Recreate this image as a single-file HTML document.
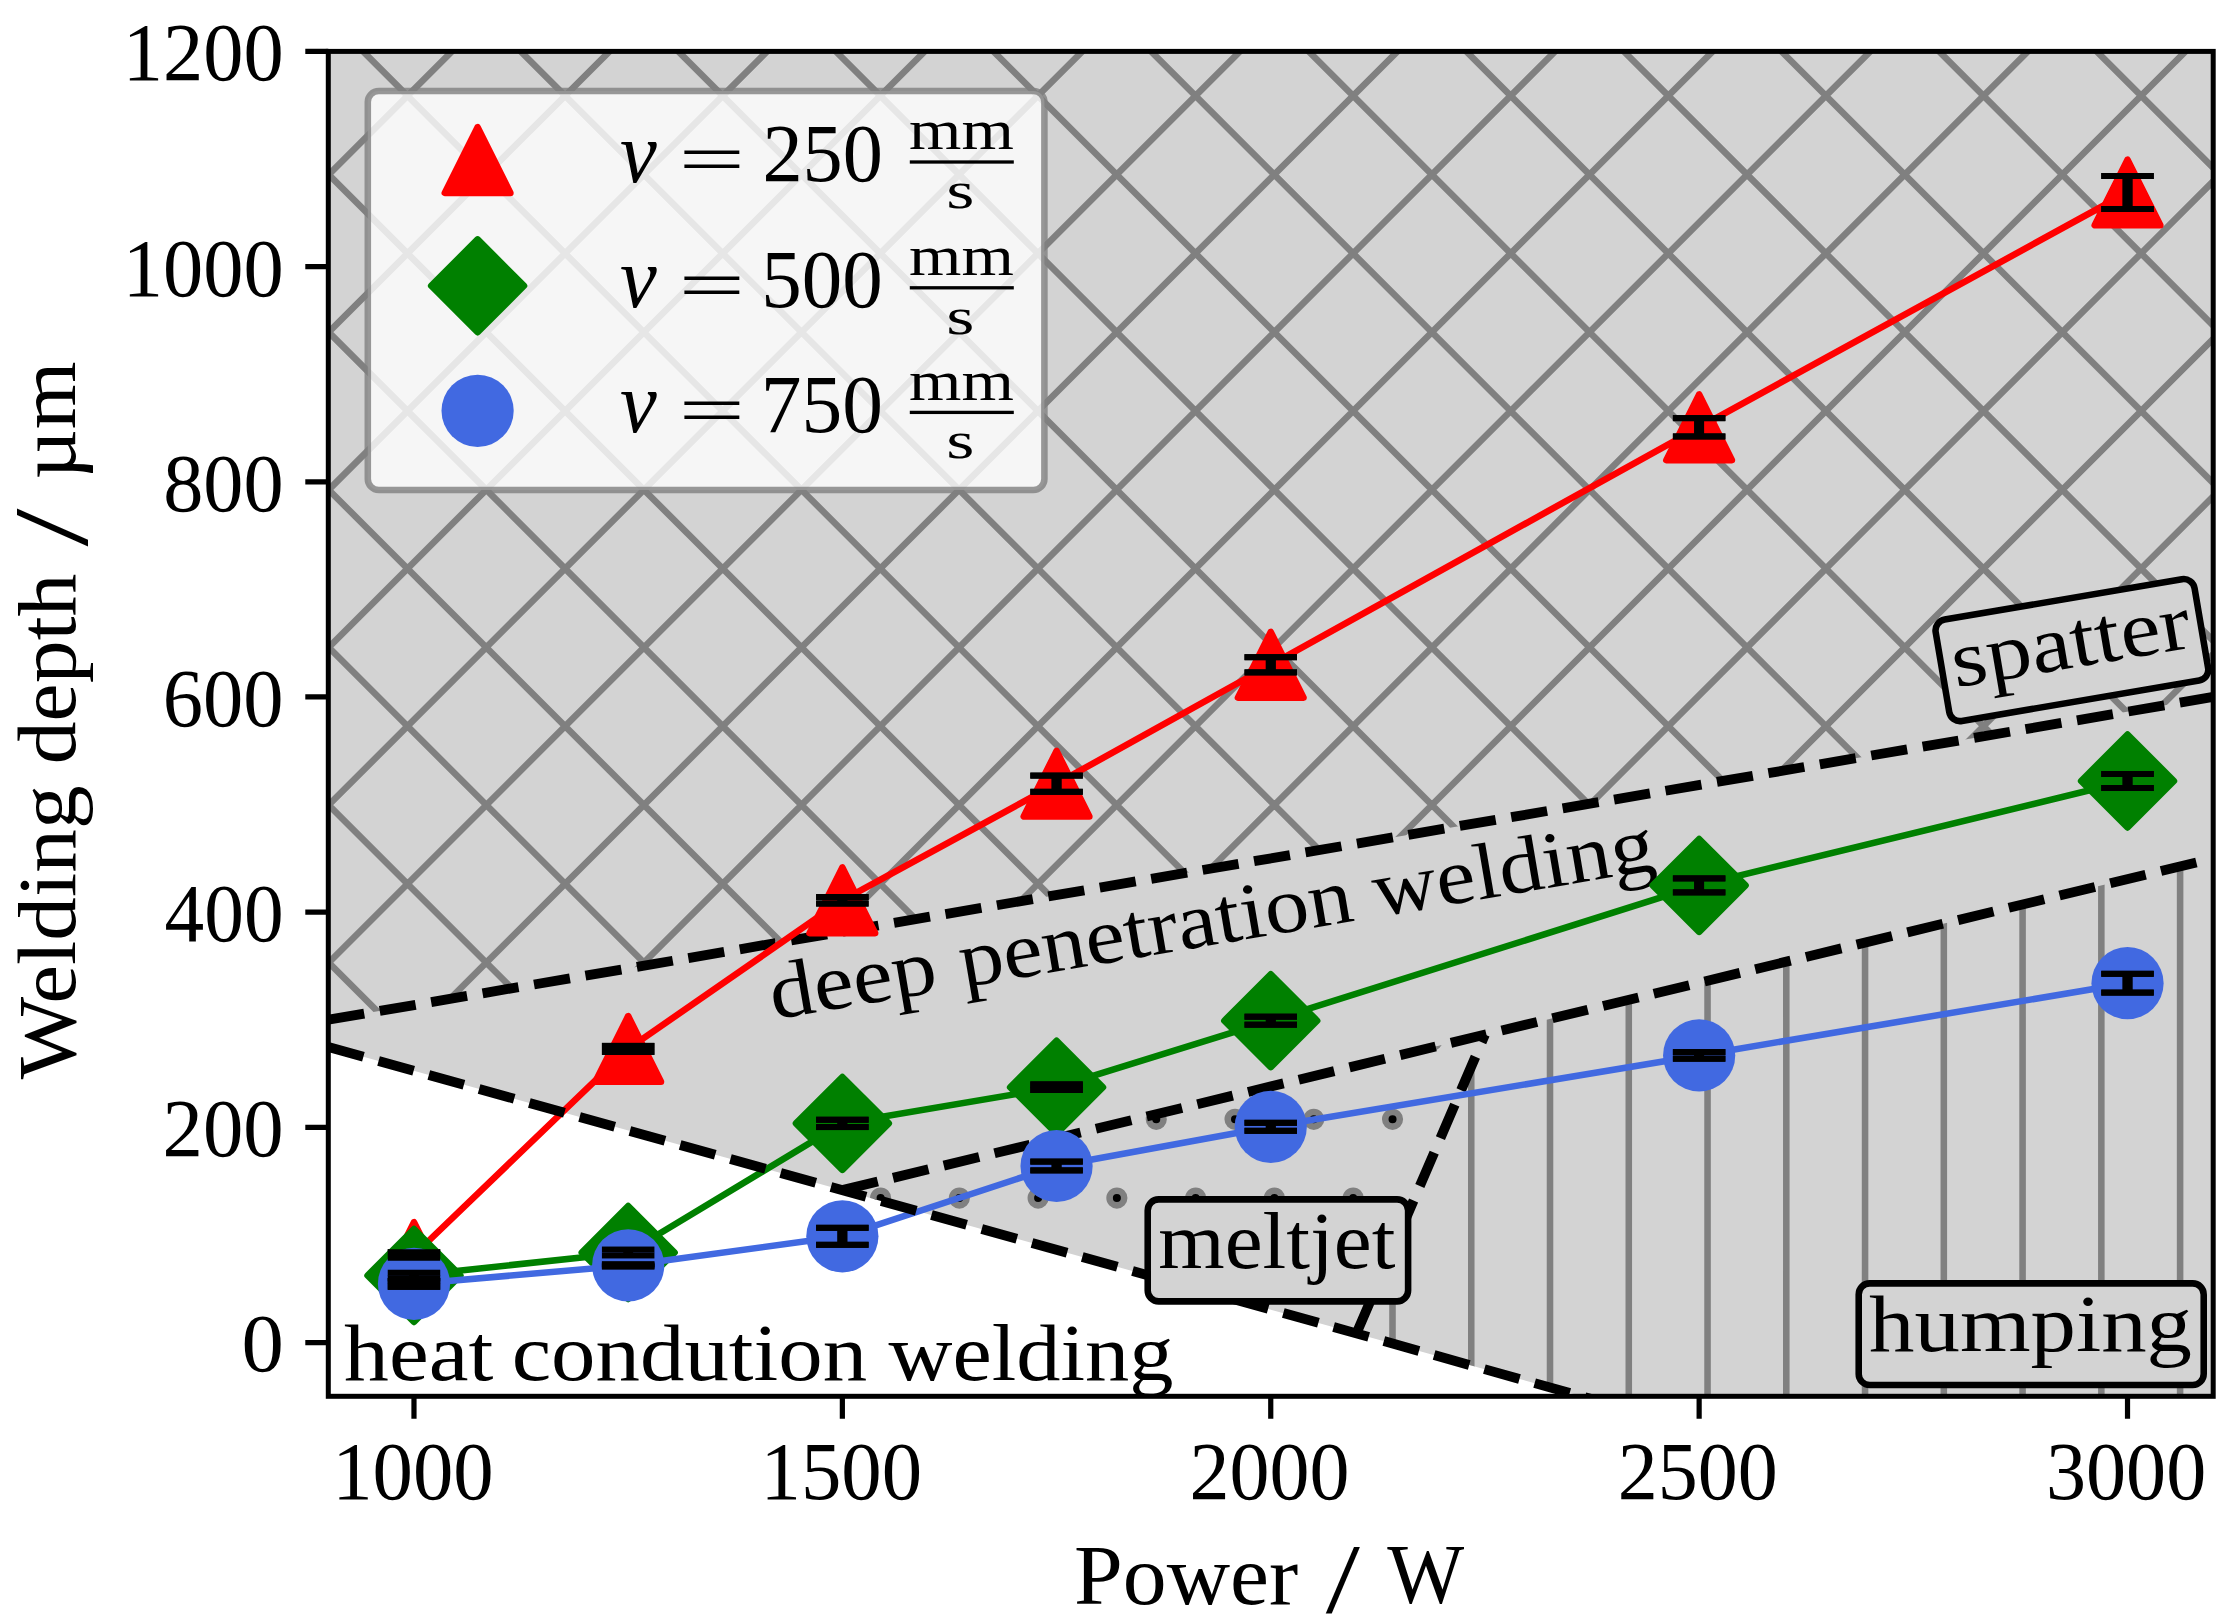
<!DOCTYPE html>
<html><head><meta charset="utf-8"><title>Welding depth</title>
<style>html,body{margin:0;padding:0;background:#fff}svg{display:block}</style></head>
<body>
<svg width="2229" height="1623" viewBox="0 0 2229 1623" font-family='"Liberation Serif", serif'>
<rect width="2229" height="1623" fill="#fff"/>
<defs>
<clipPath id="ax"><rect x="328.30" y="51.40" width="1884.90" height="1344.90"/></clipPath>
<clipPath id="cx"><polygon points="328.30,1019.73 2213.20,696.96 2213.20,51.40 328.30,51.40"/></clipPath>
<clipPath id="cm"><polygon points="842.36,1190.15 1484.94,1034.62 1356.43,1333.46"/></clipPath>
<clipPath id="ch"><polygon points="1484.94,1034.62 2213.20,858.35 2213.20,1396.30 1581.88,1396.30 1356.43,1333.46"/></clipPath>
</defs>
<g clip-path="url(#ax)">
<polygon points="328.30,1046.92 1581.88,1396.30 2213.20,1396.30 2213.20,51.40 328.30,51.40" fill="#d3d3d3"/>
<g clip-path="url(#cx)" stroke="#808080" stroke-width="6.56" fill="none"><path d="M156.70 31.40 L-911.90 1100.00 M314.30 31.40 L-754.30 1100.00 M471.90 31.40 L-596.70 1100.00 M629.50 31.40 L-439.10 1100.00 M787.10 31.40 L-281.50 1100.00 M944.70 31.40 L-123.90 1100.00 M1102.30 31.40 L33.70 1100.00 M1259.90 31.40 L191.30 1100.00 M1417.50 31.40 L348.90 1100.00 M1575.10 31.40 L506.50 1100.00 M1732.70 31.40 L664.10 1100.00 M1890.30 31.40 L821.70 1100.00 M2047.90 31.40 L979.30 1100.00 M2205.50 31.40 L1136.90 1100.00 M2363.10 31.40 L1294.50 1100.00 M2520.70 31.40 L1452.10 1100.00 M2678.30 31.40 L1609.70 1100.00 M2835.90 31.40 L1767.30 1100.00 M2993.50 31.40 L1924.90 1100.00 M3151.10 31.40 L2082.50 1100.00 M3308.70 31.40 L2240.10 1100.00 M3466.30 31.40 L2397.70 1100.00 M3623.90 31.40 L2555.30 1100.00 M3781.50 31.40 L2712.90 1100.00 M3939.10 31.40 L2870.50 1100.00 M4096.70 31.40 L3028.10 1100.00 M4254.30 31.40 L3185.70 1100.00 M-1232.90 31.40 L-164.30 1100.00 M-1075.30 31.40 L-6.70 1100.00 M-917.70 31.40 L150.90 1100.00 M-760.10 31.40 L308.50 1100.00 M-602.50 31.40 L466.10 1100.00 M-444.90 31.40 L623.70 1100.00 M-287.30 31.40 L781.30 1100.00 M-129.70 31.40 L938.90 1100.00 M27.90 31.40 L1096.50 1100.00 M185.50 31.40 L1254.10 1100.00 M343.10 31.40 L1411.70 1100.00 M500.70 31.40 L1569.30 1100.00 M658.30 31.40 L1726.90 1100.00 M815.90 31.40 L1884.50 1100.00 M973.50 31.40 L2042.10 1100.00 M1131.10 31.40 L2199.70 1100.00 M1288.70 31.40 L2357.30 1100.00 M1446.30 31.40 L2514.90 1100.00 M1603.90 31.40 L2672.50 1100.00 M1761.50 31.40 L2830.10 1100.00 M1919.10 31.40 L2987.70 1100.00 M2076.70 31.40 L3145.30 1100.00 M2234.30 31.40 L3302.90 1100.00 M2391.90 31.40 L3460.50 1100.00"/></g>
<g clip-path="url(#cm)" fill="#000" stroke="#808080" stroke-width="6.56"><circle cx="880.60" cy="1040.58" r="7.3"/><circle cx="959.36" cy="1040.58" r="7.3"/><circle cx="1038.12" cy="1040.58" r="7.3"/><circle cx="1116.88" cy="1040.58" r="7.3"/><circle cx="1195.64" cy="1040.58" r="7.3"/><circle cx="1274.40" cy="1040.58" r="7.3"/><circle cx="1353.16" cy="1040.58" r="7.3"/><circle cx="1431.92" cy="1040.58" r="7.3"/><circle cx="1510.68" cy="1040.58" r="7.3"/><circle cx="841.22" cy="1119.34" r="7.3"/><circle cx="919.98" cy="1119.34" r="7.3"/><circle cx="998.74" cy="1119.34" r="7.3"/><circle cx="1077.50" cy="1119.34" r="7.3"/><circle cx="1156.26" cy="1119.34" r="7.3"/><circle cx="1235.02" cy="1119.34" r="7.3"/><circle cx="1313.78" cy="1119.34" r="7.3"/><circle cx="1392.54" cy="1119.34" r="7.3"/><circle cx="1471.30" cy="1119.34" r="7.3"/><circle cx="880.60" cy="1198.10" r="7.3"/><circle cx="959.36" cy="1198.10" r="7.3"/><circle cx="1038.12" cy="1198.10" r="7.3"/><circle cx="1116.88" cy="1198.10" r="7.3"/><circle cx="1195.64" cy="1198.10" r="7.3"/><circle cx="1274.40" cy="1198.10" r="7.3"/><circle cx="1353.16" cy="1198.10" r="7.3"/><circle cx="1431.92" cy="1198.10" r="7.3"/><circle cx="1510.68" cy="1198.10" r="7.3"/><circle cx="841.22" cy="1276.86" r="7.3"/><circle cx="919.98" cy="1276.86" r="7.3"/><circle cx="998.74" cy="1276.86" r="7.3"/><circle cx="1077.50" cy="1276.86" r="7.3"/><circle cx="1156.26" cy="1276.86" r="7.3"/><circle cx="1235.02" cy="1276.86" r="7.3"/><circle cx="1313.78" cy="1276.86" r="7.3"/><circle cx="1392.54" cy="1276.86" r="7.3"/><circle cx="1471.30" cy="1276.86" r="7.3"/><circle cx="880.60" cy="1355.62" r="7.3"/><circle cx="959.36" cy="1355.62" r="7.3"/><circle cx="1038.12" cy="1355.62" r="7.3"/><circle cx="1116.88" cy="1355.62" r="7.3"/><circle cx="1195.64" cy="1355.62" r="7.3"/><circle cx="1274.40" cy="1355.62" r="7.3"/><circle cx="1353.16" cy="1355.62" r="7.3"/><circle cx="1431.92" cy="1355.62" r="7.3"/><circle cx="1510.68" cy="1355.62" r="7.3"/></g>
<g clip-path="url(#ch)" stroke="#808080" stroke-width="6.56"><path d="M1392.50 800V1420 M1471.26 800V1420 M1550.02 800V1420 M1628.78 800V1420 M1707.54 800V1420 M1786.30 800V1420 M1865.06 800V1420 M1943.82 800V1420 M2022.58 800V1420 M2101.34 800V1420 M2180.10 800V1420 M2258.86 800V1420"/></g>
<g stroke="#000" stroke-width="9.85" stroke-dasharray="36.43 15.75" fill="none">
<line x1="328.30" y1="1019.73" x2="2213.20" y2="696.96"/>
<line x1="842.36" y1="1190.15" x2="2208.06" y2="859.59"/>
<line x1="1356.43" y1="1333.46" x2="1484.94" y2="1034.62" stroke-dashoffset="-3.9"/>
</g>
<text transform="translate(0.00 0.00) translate(344.10 1379.60) scale(1.1197 1.0000)" font-size="80.00" fill="#000">heat</text>
<text transform="translate(0.00 0.00) translate(511.67 1379.60) scale(1.1111 1.0000)" font-size="80.00" fill="#000">condution</text>
<text transform="translate(0.00 0.00) translate(888.50 1379.60) scale(1.1062 1.0000)" font-size="80.00" fill="#000">welding</text>
<text transform="translate(776.40 1019.10) rotate(-9.650) translate(-2.62 0.00) scale(1.1145 1.0000)" font-size="80.00" fill="#000">deep</text>
<text transform="translate(776.40 1019.10) rotate(-9.650) translate(189.67 0.00) scale(1.1063 1.0000)" font-size="80.00" fill="#000">penetration</text>
<text transform="translate(776.40 1019.10) rotate(-9.650) translate(609.40 0.00) scale(1.1042 1.0000)" font-size="80.00" fill="#000">welding</text>
<polyline points="413.98,1255.00 628.17,1048.90 842.36,900.30 1056.56,783.70 1270.75,664.80 1699.14,427.30 2127.52,192.50" fill="none" stroke="#ff0000" stroke-width="6.56" stroke-linejoin="round"/><polygon points="413.98,1222.18 381.16,1287.82 446.80,1287.82" fill="#ff0000" stroke="#ff0000" stroke-width="6.56" stroke-linejoin="round"/><polygon points="628.17,1016.08 595.35,1081.72 660.99,1081.72" fill="#ff0000" stroke="#ff0000" stroke-width="6.56" stroke-linejoin="round"/><polygon points="842.36,867.48 809.54,933.12 875.18,933.12" fill="#ff0000" stroke="#ff0000" stroke-width="6.56" stroke-linejoin="round"/><polygon points="1056.56,750.88 1023.74,816.52 1089.38,816.52" fill="#ff0000" stroke="#ff0000" stroke-width="6.56" stroke-linejoin="round"/><polygon points="1270.75,631.98 1237.93,697.62 1303.57,697.62" fill="#ff0000" stroke="#ff0000" stroke-width="6.56" stroke-linejoin="round"/><polygon points="1699.14,394.48 1666.32,460.12 1731.96,460.12" fill="#ff0000" stroke="#ff0000" stroke-width="6.56" stroke-linejoin="round"/><polygon points="2127.52,159.68 2094.70,225.32 2160.34,225.32" fill="#ff0000" stroke="#ff0000" stroke-width="6.56" stroke-linejoin="round"/>
<g fill="#000"><rect x="409.05" y="1252.25" width="9.85" height="5.50"/><rect x="387.73" y="1249.25" width="52.5" height="6.0"/><rect x="387.73" y="1254.75" width="52.5" height="6.0"/><rect x="623.25" y="1045.90" width="9.85" height="6.00"/><rect x="601.92" y="1042.90" width="52.5" height="6.0"/><rect x="601.92" y="1048.90" width="52.5" height="6.0"/><rect x="837.44" y="897.05" width="9.85" height="6.50"/><rect x="816.11" y="894.05" width="52.5" height="6.0"/><rect x="816.11" y="900.55" width="52.5" height="6.0"/><rect x="1051.63" y="775.60" width="9.85" height="16.20"/><rect x="1030.31" y="772.60" width="52.5" height="6.0"/><rect x="1030.31" y="788.80" width="52.5" height="6.0"/><rect x="1265.83" y="657.20" width="9.85" height="15.20"/><rect x="1244.50" y="654.20" width="52.5" height="6.0"/><rect x="1244.50" y="669.40" width="52.5" height="6.0"/><rect x="1694.21" y="418.15" width="9.85" height="18.30"/><rect x="1672.89" y="415.15" width="52.5" height="6.0"/><rect x="1672.89" y="433.45" width="52.5" height="6.0"/><rect x="2122.60" y="176.00" width="9.85" height="33.00"/><rect x="2101.27" y="173.00" width="52.5" height="6.0"/><rect x="2101.27" y="206.00" width="52.5" height="6.0"/></g>
<polyline points="413.98,1275.50 628.17,1252.50 842.36,1123.40 1056.56,1087.20 1270.75,1020.70 1699.14,885.40 2127.52,781.00" fill="none" stroke="#008000" stroke-width="6.56" stroke-linejoin="round"/><polygon points="413.98,1229.09 460.39,1275.50 413.98,1321.91 367.56,1275.50" fill="#008000" stroke="#008000" stroke-width="6.56" stroke-linejoin="round"/><polygon points="628.17,1206.09 674.59,1252.50 628.17,1298.91 581.76,1252.50" fill="#008000" stroke="#008000" stroke-width="6.56" stroke-linejoin="round"/><polygon points="842.36,1076.99 888.78,1123.40 842.36,1169.81 795.95,1123.40" fill="#008000" stroke="#008000" stroke-width="6.56" stroke-linejoin="round"/><polygon points="1056.56,1040.79 1102.97,1087.20 1056.56,1133.61 1010.14,1087.20" fill="#008000" stroke="#008000" stroke-width="6.56" stroke-linejoin="round"/><polygon points="1270.75,974.29 1317.16,1020.70 1270.75,1067.11 1224.34,1020.70" fill="#008000" stroke="#008000" stroke-width="6.56" stroke-linejoin="round"/><polygon points="1699.14,838.99 1745.55,885.40 1699.14,931.81 1652.72,885.40" fill="#008000" stroke="#008000" stroke-width="6.56" stroke-linejoin="round"/><polygon points="2127.52,734.59 2173.94,781.00 2127.52,827.41 2081.11,781.00" fill="#008000" stroke="#008000" stroke-width="6.56" stroke-linejoin="round"/>
<g fill="#000"><rect x="409.05" y="1272.75" width="9.85" height="5.50"/><rect x="387.73" y="1269.75" width="52.5" height="6.0"/><rect x="387.73" y="1275.25" width="52.5" height="6.0"/><rect x="623.25" y="1249.55" width="9.85" height="5.90"/><rect x="601.92" y="1246.55" width="52.5" height="6.0"/><rect x="601.92" y="1252.45" width="52.5" height="6.0"/><rect x="837.44" y="1119.75" width="9.85" height="7.30"/><rect x="816.11" y="1116.75" width="52.5" height="6.0"/><rect x="816.11" y="1124.05" width="52.5" height="6.0"/><rect x="1051.63" y="1084.40" width="9.85" height="5.60"/><rect x="1030.31" y="1081.40" width="52.5" height="6.0"/><rect x="1030.31" y="1087.00" width="52.5" height="6.0"/><rect x="1265.83" y="1016.70" width="9.85" height="8.00"/><rect x="1244.50" y="1013.70" width="52.5" height="6.0"/><rect x="1244.50" y="1021.70" width="52.5" height="6.0"/><rect x="1694.21" y="878.40" width="9.85" height="14.00"/><rect x="1672.89" y="875.40" width="52.5" height="6.0"/><rect x="1672.89" y="889.40" width="52.5" height="6.0"/><rect x="2122.60" y="774.00" width="9.85" height="14.00"/><rect x="2101.27" y="771.00" width="52.5" height="6.0"/><rect x="2101.27" y="785.00" width="52.5" height="6.0"/></g>
<polyline points="413.98,1283.90 628.17,1265.40 842.36,1236.30 1056.56,1166.00 1270.75,1126.80 1699.14,1055.40 2127.52,983.20" fill="none" stroke="#4169e1" stroke-width="6.56" stroke-linejoin="round"/><circle cx="413.98" cy="1283.90" r="36.10" fill="#4169e1"/><circle cx="628.17" cy="1265.40" r="36.10" fill="#4169e1"/><circle cx="842.36" cy="1236.30" r="36.10" fill="#4169e1"/><circle cx="1056.56" cy="1166.00" r="36.10" fill="#4169e1"/><circle cx="1270.75" cy="1126.80" r="36.10" fill="#4169e1"/><circle cx="1699.14" cy="1055.40" r="36.10" fill="#4169e1"/><circle cx="2127.52" cy="983.20" r="36.10" fill="#4169e1"/>
<g fill="#000"><rect x="409.05" y="1281.00" width="9.85" height="5.80"/><rect x="387.73" y="1278.00" width="52.5" height="6.0"/><rect x="387.73" y="1283.80" width="52.5" height="6.0"/><rect x="623.25" y="1264.40" width="9.85" height="2.00"/><rect x="601.92" y="1261.40" width="52.5" height="6.0"/><rect x="601.92" y="1263.40" width="52.5" height="6.0"/><rect x="837.44" y="1227.80" width="9.85" height="17.00"/><rect x="816.11" y="1224.80" width="52.5" height="6.0"/><rect x="816.11" y="1241.80" width="52.5" height="6.0"/><rect x="1051.63" y="1161.60" width="9.85" height="8.80"/><rect x="1030.31" y="1158.60" width="52.5" height="6.0"/><rect x="1030.31" y="1167.40" width="52.5" height="6.0"/><rect x="1265.83" y="1122.80" width="9.85" height="8.00"/><rect x="1244.50" y="1119.80" width="52.5" height="6.0"/><rect x="1244.50" y="1127.80" width="52.5" height="6.0"/><rect x="1694.21" y="1052.10" width="9.85" height="6.60"/><rect x="1672.89" y="1049.10" width="52.5" height="6.0"/><rect x="1672.89" y="1055.70" width="52.5" height="6.0"/><rect x="2122.60" y="973.80" width="9.85" height="18.80"/><rect x="2101.27" y="970.80" width="52.5" height="6.0"/><rect x="2101.27" y="989.60" width="52.5" height="6.0"/></g>
<g stroke="#000" stroke-width="9.85" stroke-dasharray="36.43 15.75" fill="none"><line x1="328.30" y1="1046.92" x2="1633.29" y2="1410.62"/></g>
<g fill="#000"><rect x="409.05" y="1252.25" width="9.85" height="5.50"/><rect x="387.73" y="1249.25" width="52.5" height="6.0"/><rect x="387.73" y="1254.75" width="52.5" height="6.0"/><rect x="623.25" y="1045.90" width="9.85" height="6.00"/><rect x="601.92" y="1042.90" width="52.5" height="6.0"/><rect x="601.92" y="1048.90" width="52.5" height="6.0"/><rect x="837.44" y="897.05" width="9.85" height="6.50"/><rect x="816.11" y="894.05" width="52.5" height="6.0"/><rect x="816.11" y="900.55" width="52.5" height="6.0"/><rect x="1051.63" y="775.60" width="9.85" height="16.20"/><rect x="1030.31" y="772.60" width="52.5" height="6.0"/><rect x="1030.31" y="788.80" width="52.5" height="6.0"/><rect x="1265.83" y="657.20" width="9.85" height="15.20"/><rect x="1244.50" y="654.20" width="52.5" height="6.0"/><rect x="1244.50" y="669.40" width="52.5" height="6.0"/><rect x="1694.21" y="418.15" width="9.85" height="18.30"/><rect x="1672.89" y="415.15" width="52.5" height="6.0"/><rect x="1672.89" y="433.45" width="52.5" height="6.0"/><rect x="2122.60" y="176.00" width="9.85" height="33.00"/><rect x="2101.27" y="173.00" width="52.5" height="6.0"/><rect x="2101.27" y="206.00" width="52.5" height="6.0"/><rect x="409.05" y="1272.75" width="9.85" height="5.50"/><rect x="387.73" y="1269.75" width="52.5" height="6.0"/><rect x="387.73" y="1275.25" width="52.5" height="6.0"/><rect x="623.25" y="1249.55" width="9.85" height="5.90"/><rect x="601.92" y="1246.55" width="52.5" height="6.0"/><rect x="601.92" y="1252.45" width="52.5" height="6.0"/><rect x="837.44" y="1119.75" width="9.85" height="7.30"/><rect x="816.11" y="1116.75" width="52.5" height="6.0"/><rect x="816.11" y="1124.05" width="52.5" height="6.0"/><rect x="1051.63" y="1084.40" width="9.85" height="5.60"/><rect x="1030.31" y="1081.40" width="52.5" height="6.0"/><rect x="1030.31" y="1087.00" width="52.5" height="6.0"/><rect x="1265.83" y="1016.70" width="9.85" height="8.00"/><rect x="1244.50" y="1013.70" width="52.5" height="6.0"/><rect x="1244.50" y="1021.70" width="52.5" height="6.0"/><rect x="1694.21" y="878.40" width="9.85" height="14.00"/><rect x="1672.89" y="875.40" width="52.5" height="6.0"/><rect x="1672.89" y="889.40" width="52.5" height="6.0"/><rect x="2122.60" y="774.00" width="9.85" height="14.00"/><rect x="2101.27" y="771.00" width="52.5" height="6.0"/><rect x="2101.27" y="785.00" width="52.5" height="6.0"/><rect x="409.05" y="1281.00" width="9.85" height="5.80"/><rect x="387.73" y="1278.00" width="52.5" height="6.0"/><rect x="387.73" y="1283.80" width="52.5" height="6.0"/><rect x="623.25" y="1264.40" width="9.85" height="2.00"/><rect x="601.92" y="1261.40" width="52.5" height="6.0"/><rect x="601.92" y="1263.40" width="52.5" height="6.0"/><rect x="837.44" y="1227.80" width="9.85" height="17.00"/><rect x="816.11" y="1224.80" width="52.5" height="6.0"/><rect x="816.11" y="1241.80" width="52.5" height="6.0"/><rect x="1051.63" y="1161.60" width="9.85" height="8.80"/><rect x="1030.31" y="1158.60" width="52.5" height="6.0"/><rect x="1030.31" y="1167.40" width="52.5" height="6.0"/><rect x="1265.83" y="1122.80" width="9.85" height="8.00"/><rect x="1244.50" y="1119.80" width="52.5" height="6.0"/><rect x="1244.50" y="1127.80" width="52.5" height="6.0"/><rect x="1694.21" y="1052.10" width="9.85" height="6.60"/><rect x="1672.89" y="1049.10" width="52.5" height="6.0"/><rect x="1672.89" y="1055.70" width="52.5" height="6.0"/><rect x="2122.60" y="973.80" width="9.85" height="18.80"/><rect x="2101.27" y="970.80" width="52.5" height="6.0"/><rect x="2101.27" y="989.60" width="52.5" height="6.0"/></g>
<rect x="-130.20" y="-51.00" width="260.40" height="102.00" rx="11" ry="11" fill="#d3d3d3" stroke="#000" stroke-width="6.56" transform="translate(1277.90 1250.40) rotate(0.000)"/>
<text transform="translate(0.00 0.00) translate(1158.19 1267.60) scale(1.0682 1.0000)" font-size="80.00" fill="#000">meltjet</text>
<rect x="-172.50" y="-50.80" width="345.00" height="101.60" rx="11" ry="11" fill="#d3d3d3" stroke="#000" stroke-width="6.56" transform="translate(2031.20 1334.20) rotate(0.000)"/>
<text transform="translate(0.00 0.00) translate(1869.09 1351.10) scale(1.1354 1.0000)" font-size="80.00" fill="#000">humping</text>
<rect x="-131.30" y="-51.40" width="262.60" height="102.80" rx="11" ry="11" fill="#d3d3d3" stroke="#000" stroke-width="6.56" transform="translate(2071.90 650.10) rotate(-9.650)"/>
<text transform="translate(2071.00 649.00) rotate(-9.650) translate(-120.12 18.70) scale(1.1309 1.0000)" font-size="80.00" fill="#000">spatter</text>
</g>
<rect x="367.8" y="91" width="676.6" height="399" rx="11" ry="11" fill="#fff" fill-opacity="0.8" stroke="#808080" stroke-opacity="0.8" stroke-width="6.56"/>
<polygon points="477.60,127.28 444.78,192.92 510.42,192.92" fill="#ff0000" stroke="#ff0000" stroke-width="6.56" stroke-linejoin="round"/>
<polygon points="477.60,239.39 524.01,285.80 477.60,332.21 431.19,285.80" fill="#008000" stroke="#008000" stroke-width="6.56" stroke-linejoin="round"/>
<circle cx="477.60" cy="410.80" r="36.10" fill="#4169e1"/>
<text transform="translate(0.00 0.00) translate(620.06 181.53) scale(1.0096 1.0560)" font-size="82.00" font-style="italic" fill="#000">v</text>
<text transform="translate(0.00 0.00) translate(678.40 183.19) scale(1.4398 0.8634)" font-size="82.00" fill="#000">=</text>
<text transform="translate(0.00 0.00) translate(762.39 181.38) scale(0.9791 0.9973)" font-size="82.00" fill="#000">250</text>
<text transform="translate(0.00 0.00) translate(909.05 149.30) scale(1.1615 0.9758)" font-size="58.00" fill="#000">mm</text>
<rect x="909.8" y="160.35" width="104" height="3.3" fill="#000"/>
<text transform="translate(0.00 0.00) translate(946.31 207.77) scale(1.2469 0.9124)" font-size="58.00" fill="#000">s</text>
<text transform="translate(0.00 0.00) translate(620.06 307.33) scale(1.0096 1.0560)" font-size="82.00" font-style="italic" fill="#000">v</text>
<text transform="translate(0.00 0.00) translate(678.40 308.99) scale(1.4398 0.8634)" font-size="82.00" fill="#000">=</text>
<text transform="translate(0.00 0.00) translate(761.34 307.18) scale(0.9878 0.9973)" font-size="82.00" fill="#000">500</text>
<text transform="translate(0.00 0.00) translate(909.05 275.10) scale(1.1615 0.9758)" font-size="58.00" fill="#000">mm</text>
<rect x="909.8" y="286.15" width="104" height="3.3" fill="#000"/>
<text transform="translate(0.00 0.00) translate(946.31 333.57) scale(1.2469 0.9124)" font-size="58.00" fill="#000">s</text>
<text transform="translate(0.00 0.00) translate(620.06 431.93) scale(1.0096 1.0560)" font-size="82.00" font-style="italic" fill="#000">v</text>
<text transform="translate(0.00 0.00) translate(678.40 433.59) scale(1.4398 0.8634)" font-size="82.00" fill="#000">=</text>
<text transform="translate(0.00 0.00) translate(760.71 431.78) scale(0.9931 0.9973)" font-size="82.00" fill="#000">750</text>
<text transform="translate(0.00 0.00) translate(909.05 399.70) scale(1.1615 0.9758)" font-size="58.00" fill="#000">mm</text>
<rect x="909.8" y="410.75" width="104" height="3.3" fill="#000"/>
<text transform="translate(0.00 0.00) translate(946.31 458.17) scale(1.2469 0.9124)" font-size="58.00" fill="#000">s</text>
<rect x="328.30" y="51.40" width="1884.90" height="1344.90" fill="none" stroke="#000" stroke-width="5.00"/>
<path d="M328.30 1342.70H305.30 M328.30 1127.32H305.30 M328.30 912.14H305.30 M328.30 696.96H305.30 M328.30 481.78H305.30 M328.30 266.60H305.30 M328.30 51.42H305.30 M413.98 1396.30V1418.80 M842.36 1396.30V1418.80 M1270.75 1396.30V1418.80 M1699.14 1396.30V1418.80 M2127.52 1396.30V1418.80" stroke="#000" stroke-width="5.2" fill="none"/>
<text transform="translate(0.00 0.00) translate(241.42 1371.47) scale(1.0330 1.0117)" font-size="82.00" fill="#000">0</text>
<text transform="translate(0.00 0.00) translate(162.57 1156.29) scale(0.9842 1.0117)" font-size="82.00" fill="#000">200</text>
<text transform="translate(0.00 0.00) translate(164.61 941.11) scale(0.9672 1.0117)" font-size="82.00" fill="#000">400</text>
<text transform="translate(0.00 0.00) translate(162.78 725.93) scale(0.9825 1.0117)" font-size="82.00" fill="#000">600</text>
<text transform="translate(0.00 0.00) translate(163.19 510.75) scale(0.9790 1.0117)" font-size="82.00" fill="#000">800</text>
<text transform="translate(0.00 0.00) translate(122.76 295.57) scale(0.9808 1.0117)" font-size="82.00" fill="#000">1000</text>
<text transform="translate(0.00 0.00) translate(122.76 80.39) scale(0.9808 1.0117)" font-size="82.00" fill="#000">1200</text>
<text transform="translate(0.00 0.00) translate(332.16 1499.07) scale(0.9854 1.0099)" font-size="82.00" fill="#000">1000</text>
<text transform="translate(0.00 0.00) translate(760.54 1499.07) scale(0.9854 1.0099)" font-size="82.00" fill="#000">1500</text>
<text transform="translate(0.00 0.00) translate(1189.40 1499.07) scale(0.9762 1.0099)" font-size="82.00" fill="#000">2000</text>
<text transform="translate(0.00 0.00) translate(1617.78 1499.07) scale(0.9762 1.0099)" font-size="82.00" fill="#000">2500</text>
<text transform="translate(0.00 0.00) translate(2045.97 1499.07) scale(0.9775 1.0099)" font-size="82.00" fill="#000">3000</text>
<text transform="translate(0.00 0.00) translate(1074.07 1603.75) scale(1.0567 1.0255)" font-size="83.00" fill="#000">Power</text>
<text transform="translate(0.00 0.00) translate(1325.80 1611.50) scale(1.4805 1.1994)" font-size="83.00" fill="#000">/</text>
<text transform="translate(0.00 0.00) translate(1387.30 1603.34) scale(0.9818 1.0088)" font-size="83.00" fill="#000">W</text>
<text transform="translate(75.00 1079.20) rotate(-90.000) translate(0.00 0.00) scale(1.0528 1.0000)" font-size="83.00" fill="#000">Welding</text>
<text transform="translate(75.00 1079.20) rotate(-90.000) translate(314.90 0.00) scale(1.0343 1.0000)" font-size="83.00" fill="#000">depth</text>
<text transform="translate(75.00 1079.20) rotate(-90.000) translate(532.80 11.74) scale(1.6498 1.2803)" font-size="83.00" fill="#000">/</text>
<text transform="translate(75.00 1079.20) rotate(-90.000) translate(599.77 0.00) scale(1.0506 1.0000)" font-size="83.00" fill="#000">µm</text>
</svg>
</body></html>
